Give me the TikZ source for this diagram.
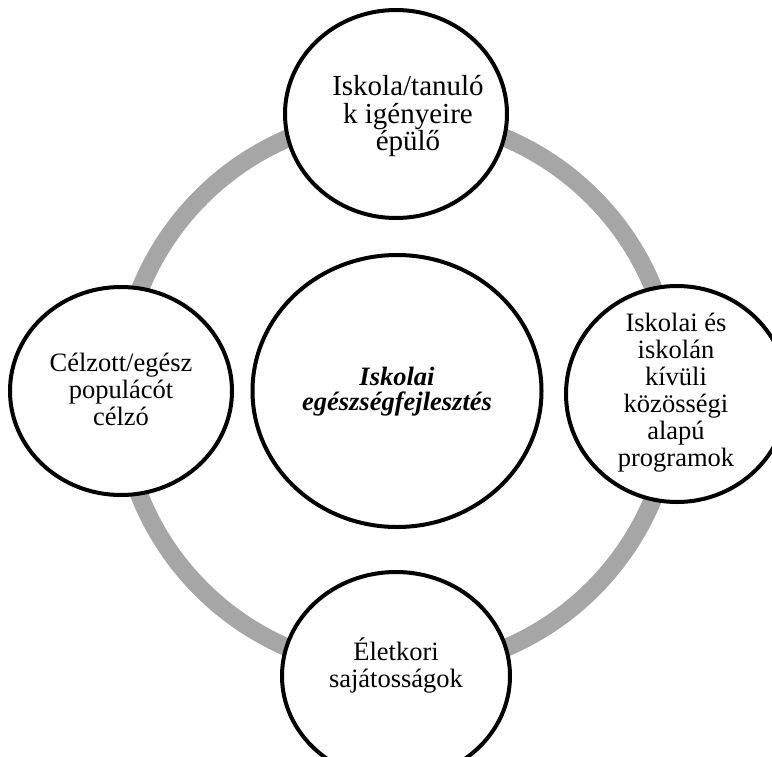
\documentclass[tikz,border=0pt]{standalone}
\usepackage{fontspec}
\setmainfont{Liberation Serif}
\usetikzlibrary{shapes.geometric}
\definecolor{ringgray}{RGB}{166,166,166}
\begin{document}
\begin{tikzpicture}[x=1pt,y=-1pt,
  sat/.style={ellipse, draw=black, line width=4pt, fill=white,
    minimum width=222pt, minimum height=208pt, inner sep=0pt},
  hub/.style={ellipse, draw=black, line width=4pt, fill=white,
    minimum width=289pt, minimum height=272pt, inner sep=0pt},
  satlabel/.style={align=center, inner sep=0pt,
    font=\fontsize{26.5}{27}\selectfont},
  hublabel/.style={align=center, inner sep=0pt,
    font=\fontsize{26.5}{25}\selectfont\bfseries\itshape}]
\useasboundingbox (0,0) rectangle (772,756);
\clip (0,0) rectangle (772,756);

% grey ring linking the four topics
\coordinate (ring) at (397,393);
\draw[line width=18pt, ringgray] (ring) circle[radius=277pt];

% central topic
\node[hub] (hub) at (397,391) {};
\node[hublabel] (hubT) at (397,391.5) {Iskolai\\egészségfejlesztés};

% four surrounding topics
\node[sat] (top) at (396,114) {};
\node[satlabel, font=\fontsize{29}{27.5}\selectfont] (topT) at (408,116)
  {Iskola/tanuló\\k igényeire\\épülő};

\node[sat] (left) at (121,391) {};
\node[satlabel] (leftT) at (121,389) {Célzott/egész\\populácót\\célzó};

\node[sat, minimum height=216pt] (right) at (677,394) {};
\node[satlabel] (rightT) at (676,392.5) {Iskolai és\\iskolán\\kívüli\\közösségi\\alapú\\programok};

\node[sat, minimum width=228pt] (bottom) at (396,676) {};
\node[satlabel] (bottomT) at (396,665) {Életkori\\sajátosságok};
\end{tikzpicture}
\end{document}
